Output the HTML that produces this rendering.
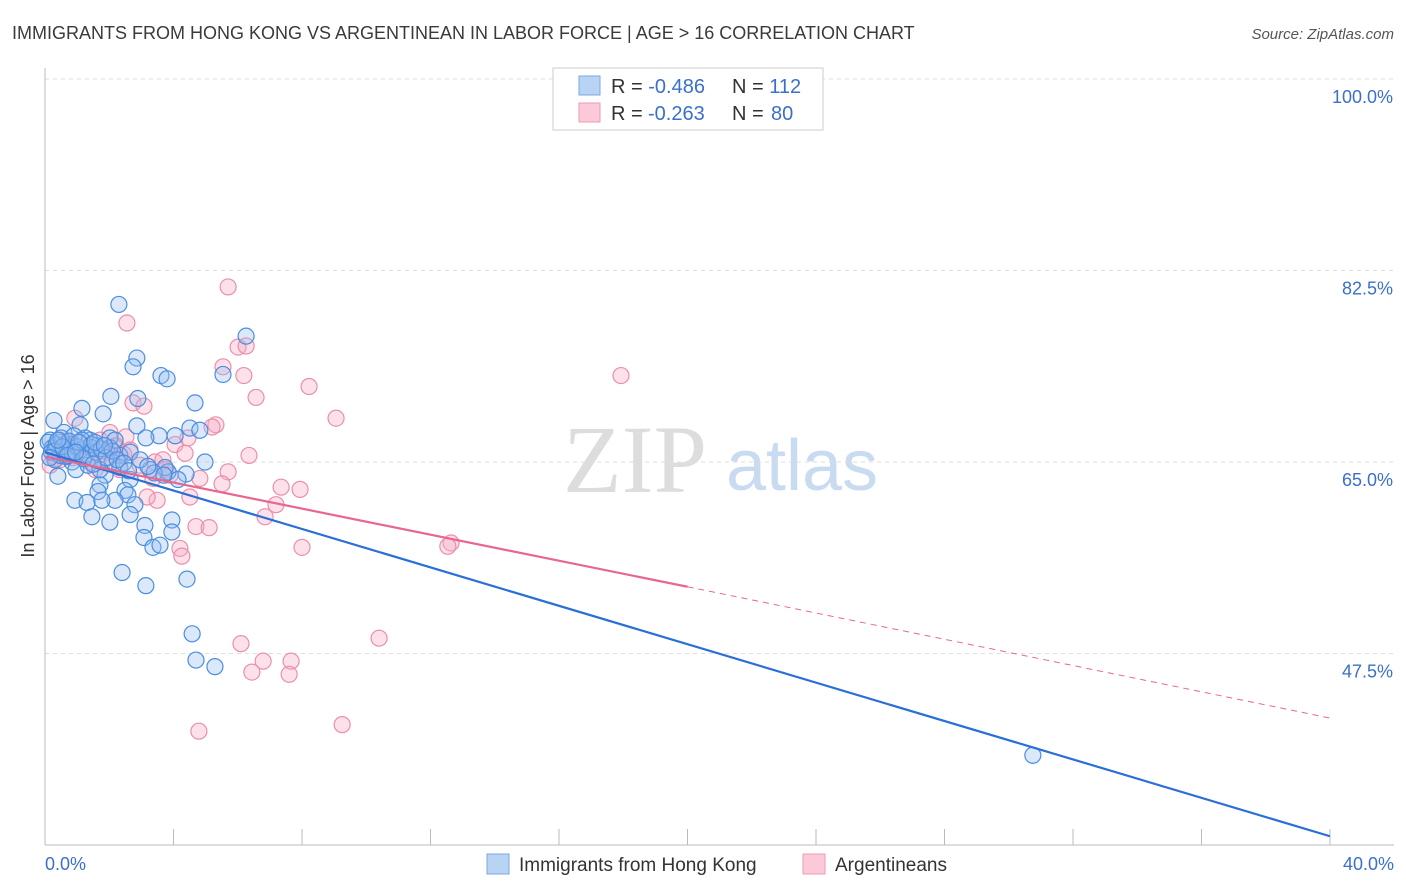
<!DOCTYPE html>
<html><head><meta charset="utf-8"><style>
body{margin:0;background:#fff;font-family:"Liberation Sans",sans-serif;}
svg{display:block}
</style></head><body>
<svg id="chart" width="1406" height="892" xmlns="http://www.w3.org/2000/svg" font-family="Liberation Sans, sans-serif">
<text x="12" y="39" font-size="18" fill="#3a3a3a">IMMIGRANTS FROM HONG KONG VS ARGENTINEAN IN LABOR FORCE | AGE &gt; 16 CORRELATION CHART</text>
<text x="1394" y="39" font-size="15" fill="#555" font-style="italic" text-anchor="end">Source: ZipAtlas.com</text>
<text transform="translate(34,456) rotate(-90)" font-size="18" fill="#333" text-anchor="middle">In Labor Force | Age &gt; 16</text>
<g><text x="635" y="492" font-size="96" fill="#ddd" font-family="Liberation Serif, serif" text-anchor="middle">ZIP</text><text x="802" y="490" font-size="72" fill="#c9dbf0" text-anchor="middle">atlas</text></g>
<g id="grid"></g><g id="axes"></g><g id="marks"></g>
<g>
<rect x="553" y="68" width="270" height="62" fill="#fff" stroke="#ccc"/>
<rect x="579" y="76" width="21" height="19" fill="#b9d3f4" stroke="#7aa8e4"/>
<rect x="579" y="103" width="21" height="19" fill="#fbc9d7" stroke="#ee9ab3"/>
<text x="611" y="93" font-size="20" fill="#333">R = <tspan fill="#3a70cc">-0.486</tspan><tspan x="732">N = </tspan><tspan fill="#3a70cc">112</tspan></text>
<text x="611" y="120" font-size="20" fill="#333">R = <tspan fill="#3a70cc" x="648">-0.263</tspan><tspan x="732">N = </tspan><tspan fill="#3a70cc" x="771">80</tspan></text>
</g>
<g>
<rect x="487" y="854" width="22" height="20" fill="#b9d3f4" stroke="#7aa8e4"/>
<text x="519" y="871" font-size="19" fill="#333">Immigrants from Hong Kong</text>
<rect x="803" y="854" width="22" height="20" fill="#fbc9d7" stroke="#ee9ab3"/>
<text x="835" y="871" font-size="19" fill="#333">Argentineans</text>
</g>
</svg>
<script>
const yTicks=[100,82.5,65,47.5];
const yTickLabels=["100.0%","82.5%","65.0%","47.5%"];
const xTicks=[0,4,8,12,16,20,24,28,32,36,40];
const hkX=[2.30,6.26,2.86,2.74,5.54,3.61,3.80,2.05,2.89,4.67,1.15,1.81,0.28,1.09,2.86,4.51,4.82,3.55,3.14,4.05,2.02,1.40,0.16,0.47,0.78,1.59,0.62,2.33,2.65,4.98,0.31,0.84,2.09,3.27,3.83,4.39,0.40,0.96,1.87,2.33,2.65,1.71,2.49,1.65,2.58,2.18,0.93,1.31,2.80,1.77,2.65,1.46,2.02,3.11,3.95,3.08,3.95,3.36,3.58,2.40,3.14,4.42,4.58,4.70,5.29,30.75,1.09,1.25,1.34,0.59,0.90,1.46,2.02,2.18,0.47,3.74,4.14,1.71,2.96,0.22,
0.10,0.20,0.35,0.50,0.65,0.75,0.85,1.00,1.15,1.30,1.45,1.60,1.75,1.90,2.10,2.25,0.30,0.55,0.70,1.05,1.20,1.55,1.85,2.45,0.15,0.40,0.95,1.50,2.60,3.40,3.70,3.20];
const hkY=[79.4,76.5,74.5,73.7,73.0,72.9,72.6,71.0,70.8,70.4,69.9,69.4,68.8,68.4,68.3,68.1,67.9,67.4,67.2,67.4,67.2,67.0,67.0,66.8,66.6,66.5,66.1,65.6,65.9,65.0,65.2,65.0,65.0,64.3,64.1,63.9,63.7,64.3,63.8,64.5,63.4,62.9,62.4,62.3,62.0,61.5,61.5,61.3,61.1,61.5,60.2,60.0,59.5,59.2,59.7,58.1,58.6,57.2,57.4,54.9,53.7,54.3,49.3,46.9,46.3,38.2,66.1,67.2,64.7,67.7,67.4,66.3,66.3,67.0,65.6,64.5,63.4,64.3,65.2,66.3,
66.8,65.9,66.6,67.2,65.5,66.9,65.8,66.4,67.0,65.7,66.6,65.9,66.2,65.4,66.0,65.2,66.0,66.4,65.6,66.8,65.3,66.8,66.5,64.9,65.4,67.0,65.9,64.8,64.2,64.0,63.8,64.6];
const arX=[5.70,2.55,6.01,6.26,5.54,6.19,6.57,8.22,17.93,9.06,2.74,3.08,0.93,5.32,5.20,2.02,2.52,4.05,4.45,4.36,6.35,1.71,2.18,2.33,0.47,1.40,3.42,2.96,3.67,5.70,3.89,4.82,5.51,3.36,7.35,7.94,7.19,6.85,3.49,4.51,3.18,4.70,5.11,8.00,4.20,4.26,12.64,12.54,6.10,10.40,6.79,7.66,6.44,7.60,4.79,9.25,0.16,0.78,1.25,1.87,2.65,1.56,3.74,2.33,0.47,
0.25,0.45,0.60,0.85,1.05,1.20,1.40,1.65,1.95,2.20,2.45,0.35,0.70,1.10,1.80];
const arY=[81.0,77.7,75.5,75.6,73.7,72.9,70.9,71.9,72.9,69.0,70.4,70.1,69.0,68.4,68.2,67.7,67.3,66.6,67.2,65.8,65.6,67.0,66.4,65.6,65.2,65.0,65.0,64.7,65.2,64.1,63.8,63.5,63.0,63.5,62.7,62.5,61.1,60.0,61.5,61.8,61.8,59.1,59.0,57.2,57.1,56.4,57.6,57.3,48.4,48.9,46.8,46.8,45.8,45.6,40.4,41.0,64.7,66.1,65.6,65.2,66.1,64.3,64.3,64.3,67.0,
66.2,65.8,66.6,65.4,66.0,65.5,66.3,65.1,65.9,66.5,65.7,65.3,66.9,66.8,66.0];
const hkLine=[[0,65.9],[40,30.8]];
const arLine=[[0,65.5],[20,53.6],[40,41.6]];
const X=v=>45+v*(1285/40);
const Y=v=>79+(100-v)*(191.5/17.5);
const NS="http://www.w3.org/2000/svg";
function mk(t,a,p){const e=document.createElementNS(NS,t);for(const k in a)e.setAttribute(k,a[k]);p.appendChild(e);return e;}
const grid=document.getElementById('grid'),axes=document.getElementById('axes'),marks=document.getElementById('marks');
yTicks.forEach((v,i)=>{
 const l=mk('line',{x1:45,x2:1394,y1:Y(v),y2:Y(v),stroke:'#ddd','stroke-dasharray':'4,4'},grid);
 
 
 const t=mk('text',{x:1393,y:Y(v)+24,'font-size':18,fill:'#3a70cc','text-anchor':'end'},axes);t.textContent=yTickLabels[i];
 
 
});
const ya=mk('line',{x1:45,x2:45,y1:68,y2:845,stroke:'#bbb'},axes);


const xa=mk('line',{x1:45,x2:1394,y1:845,y2:845,stroke:'#bbb'},axes);


xTicks.forEach(v=>{const t=mk('line',{x1:X(v),x2:X(v),y1:829,y2:845,stroke:'#bbb'},axes);
 
 });
const l0=mk('text',{x:45,y:870,'font-size':18,fill:'#3a70cc'},axes);l0.textContent='0.0%';


const l1=mk('text',{x:1394,y:870,'font-size':18,fill:'#3a70cc','text-anchor':'end'},axes);l1.textContent='40.0%';


arX.forEach((v,i)=>{const c=mk('circle',{cx:X(v),cy:Y(arY[i]),r:8,fill:'rgba(246,170,195,0.35)',stroke:'#ea8fab','stroke-width':1.2},marks);
 
 });
hkX.forEach((v,i)=>{const c=mk('circle',{cx:X(v),cy:Y(hkY[i]),r:8,fill:'rgba(150,190,240,0.35)',stroke:'#4a8ee0','stroke-width':1.2},marks);
 
 });
const bl=mk('line',{x1:X(hkLine[0][0]),y1:Y(hkLine[0][1]),x2:X(hkLine[1][0]),y2:Y(hkLine[1][1]),stroke:'#2a6fd6','stroke-width':2.2},marks);


const pl=mk('line',{x1:X(arLine[0][0]),y1:Y(arLine[0][1]),x2:X(arLine[1][0]),y2:Y(arLine[1][1]),stroke:'#e8668f','stroke-width':2.2},marks);


const pd=mk('line',{x1:X(arLine[1][0]),y1:Y(arLine[1][1]),x2:X(arLine[2][0]),y2:Y(arLine[2][1]),stroke:'#e8668f','stroke-width':1,'stroke-dasharray':'6,5'},marks);


</script>
</body></html>
